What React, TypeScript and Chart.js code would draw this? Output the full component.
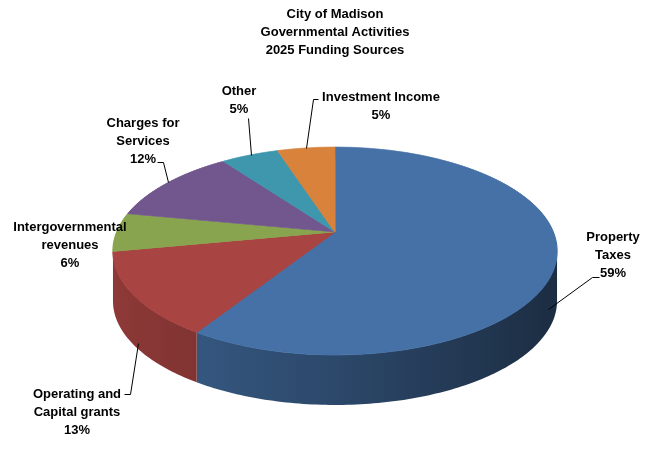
import React, { useEffect, useRef } from 'react';
import { Chart, registerables, Plugin } from 'chart.js';

Chart.register(...registerables);

// chart data
const titleLines = ['City of Madison', 'Governmental Activities', '2025 Funding Sources'];
const categories = [
    'Property Taxes',
    'Operating and Capital grants',
    'Intergovernmental revenues',
    'Charges for Services',
    'Other',
    'Investment Income',
];
const shares = [59, 13, 6, 12, 5, 5];
const sliceColors = ['#4571A6', '#A84442', '#88A44E', '#71578E', '#3F97AE', '#D9823C'];

// label placement (style only): wrapped lines, centre x, first line y, leader line
const labelLayout = [
    { lines: ['Property', 'Taxes'], x: 613, y: 237, leader: [[599, 277], [592, 277], [548, 309]] },
    { lines: ['Operating and', 'Capital grants'], x: 77, y: 394, leader: [[124, 394], [130, 394], [138, 343]] },
    { lines: ['Intergovernmental', 'revenues'], x: 70, y: 227, leader: [] },
    { lines: ['Charges for', 'Services'], x: 143, y: 123, leader: [[157, 162], [163, 162], [168, 182]] },
    { lines: ['Other'], x: 239, y: 91, leader: [[248, 118], [251, 155]] },
    { lines: ['Investment Income'], x: 381, y: 97, leader: [[318, 99], [313, 99], [306, 148]] },
];

// perspective view of the pie disc
const CX = 335;   // screen x of pie centre
const CY = 232;   // screen y of pie centre
const RX = 218.3; // horizontal radius at centre depth
const RY = 100.5; // vertical radius at centre depth
const PERSP = 0.1827;
const DEPTH = 50;
const FONT = 'bold 13px "Liberation Sans", Arial, sans-serif';

const shade = (hex: string, f: number) => {
    const n = parseInt(hex.slice(1), 16);
    const r = Math.round(((n >> 16) & 255) * f);
    const g = Math.round(((n >> 8) & 255) * f);
    const b = Math.round((n & 255) * f);
    return `rgb(${r},${g},${b})`;
};

// canvas angle on the disc -> screen point
const project = (a: number) => {
    const u = Math.cos(a);
    const w = Math.sin(a);
    const q = 1 / (1 - PERSP * w);
    return { x: CX + RX * u * q, y: CY + RY * w * q };
};
const depthAt = (y: number) => {
    const d = y - CY;
    return d / (RY + PERSP * d);
};

const pie3d: Plugin<'pie'> = {
    id: 'pie3d',
    beforeDatasetsDraw(chart) {
        const ctx = chart.ctx;
        const arcs: any[] = chart.getDatasetMeta(0).data as any[];
        const { x: x0, y: y0, outerRadius: R } = arcs[0].getProps(['x', 'y', 'outerRadius'], true);

        // side walls: only the front part between the horizontal extremes shows
        const lo = Math.asin(PERSP);
        const hi = Math.PI - lo;
        arcs.forEach((el, i) => {
            const { startAngle, endAngle } = el.getProps(['startAngle', 'endAngle'], true);
            [0, 2 * Math.PI].forEach((off) => {
                const a = Math.max(startAngle, lo + off);
                const b = Math.min(endAngle, hi + off);
                if (b <= a) return;
                const steps = Math.max(4, Math.ceil((b - a) * 60));
                const top = [];
                for (let k = 0; k <= steps; k++) top.push(project(a + ((b - a) * k) / steps));
                const grad = ctx.createLinearGradient(CX - RX - 5, 0, CX + RX + 5, 0);
                grad.addColorStop(0, shade(sliceColors[i], 0.84));
                grad.addColorStop(0.5, shade(sliceColors[i], 0.64));
                grad.addColorStop(1, shade(sliceColors[i], 0.4));
                ctx.beginPath();
                top.forEach((p, k) => (k ? ctx.lineTo(p.x, p.y) : ctx.moveTo(p.x, p.y)));
                for (let k = top.length - 1; k >= 0; k--) ctx.lineTo(top[k].x, top[k].y + DEPTH);
                ctx.closePath();
                ctx.fillStyle = grad;
                ctx.fill();
            });
        });

        // top face: the library's arcs, drawn row by row with the perspective scale of that row
        const yTop = Math.floor(project(-Math.PI / 2).y) - 1;
        const yBot = Math.ceil(project(Math.PI / 2).y) + 1;
        for (let ys = yTop; ys < yBot; ys++) {
            const wm = (depthAt(ys) + depthAt(ys + 1)) / 2;
            const q = 1 / (1 - PERSP * wm);
            ctx.save();
            ctx.beginPath();
            ctx.rect(0, ys, chart.width, 1);
            ctx.clip();
            ctx.translate(CX, CY + RY * wm * q);
            ctx.scale((RX * q) / R, (RY * q * q) / R);
            ctx.translate(-x0, -(y0 + R * wm));
            arcs.forEach((el) => el.draw(ctx));
            ctx.restore();
        }
        return false;
    },
    afterDraw(chart) {
        const ctx = chart.ctx;
        ctx.save();
        ctx.strokeStyle = '#000';
        ctx.lineWidth = 1;
        labelLayout.forEach((lab, i) => {
            if (lab.leader.length) {
                ctx.beginPath();
                lab.leader.forEach(([px, py], k) => (k ? ctx.lineTo(px + 0.5, py + 0.5) : ctx.moveTo(px + 0.5, py + 0.5)));
                ctx.stroke();
            }
            ctx.font = FONT;
            ctx.fillStyle = '#000';
            ctx.textAlign = 'center';
            ctx.textBaseline = 'middle';
            const lines = [...lab.lines, `${shares[i]}%`];
            lines.forEach((t, k) => ctx.fillText(t, lab.x, lab.y + k * 18));
        });
        ctx.restore();
    },
};

const FundingPie: React.FC = () => {
    const ref = useRef<HTMLCanvasElement>(null);
    const chartRef = useRef<Chart | null>(null);

    useEffect(() => {
        if (!ref.current) return;
        document.body.style.margin = '0';
        if (chartRef.current) chartRef.current.destroy();

        chartRef.current = new Chart(ref.current, {
            type: 'pie',
            data: {
                labels: categories,
                datasets: [
                    {
                        data: shares,
                        backgroundColor: sliceColors,
                        borderColor: sliceColors,
                        borderWidth: 1,
                    },
                ],
            },
            options: {
                responsive: true,
                maintainAspectRatio: false,
                animation: false,
                layout: { padding: { left: 7, top: 5 } },
                plugins: {
                    legend: { display: false },
                    tooltip: { enabled: false },
                    title: {
                        display: true,
                        text: titleLines,
                        color: '#000',
                        font: { family: '"Liberation Sans", Arial, sans-serif', size: 13, weight: 'bold', lineHeight: 18 / 13 },
                        padding: { top: 0, bottom: 10 },
                    },
                },
            },
            plugins: [pie3d],
        });

        return () => {
            if (chartRef.current) {
                chartRef.current.destroy();
                chartRef.current = null;
            }
        };
    }, []);

    return (
        <div style={{ position: 'relative', width: 663, height: 449, background: '#fff' }}>
            <canvas ref={ref}></canvas>
        </div>
    );
};

export default function App() {
    return <FundingPie />;
}
